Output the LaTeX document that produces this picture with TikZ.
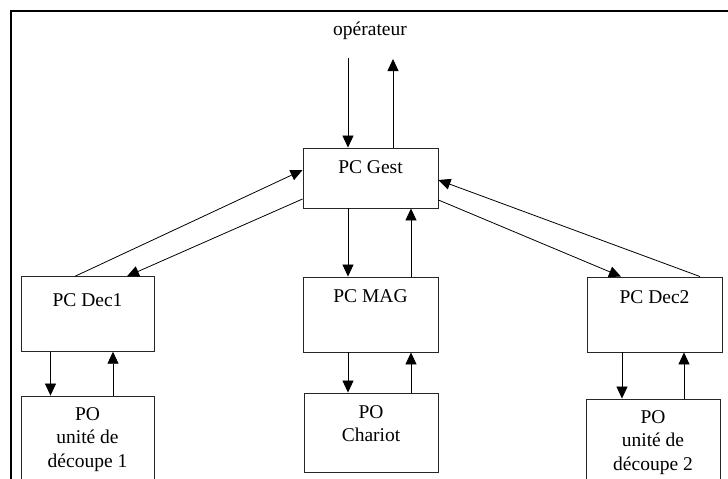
\documentclass[tikz,border=0pt]{standalone}
\usepackage{fontspec}
\setmainfont{Liberation Serif}
\usetikzlibrary{arrows.meta}
\begin{document}
\begin{tikzpicture}[x=1pt,y=-1pt,
  box/.style={draw=black!85,line width=0.9pt,minimum width=#1,inner sep=0pt},
  lbl/.style={font=\fontsize{19.5}{23.5}\selectfont,align=center,anchor=base,inner sep=0pt},
  arr/.style={line width=0.8pt,-{Triangle[length=12pt,width=11pt]}},
  ln/.style={line width=0.8pt}]
\clip (0,0) rectangle (728,479);
\fill[white] (0,0) rectangle (728,479);
\draw[line width=1.4pt] (11,11) rectangle (745,495);
% boxes
\node[box=135,minimum height=60] (gest) at (370.5,178) {};
\node[box=133,minimum height=74.5] (dec1) at (87.5,314) {};
\node[box=135,minimum height=75] (mag) at (370.5,314.5) {};
\node[box=135,minimum height=75] (dec2) at (654.5,314.5) {};
\node[box=133,minimum height=110] (po1) at (87.5,451) {};
\node[box=134,minimum height=79] (char) at (371,432.5) {};
\node[box=134,minimum height=110] (po2) at (653,454) {};
% labels
\node[lbl] (top) at (370,35) {opérateur};
\node[lbl] (tgest) at (370.5,173) {PC Gest};
\node[lbl] (tdec1) at (87.5,306) {PC Dec1};
\node[lbl] (tmag) at (370.5,302) {PC MAG};
\node[lbl] (tdec2) at (654.5,303) {PC Dec2};
\node[lbl] (tpo1) at (87.5,467) {PO\\unité de\\découpe 1};
\node[lbl] (tchar) at (371,441.5) {PO\\Chariot};
\node[lbl] (tpo2) at (653,470) {PO\\unité de\\découpe 2};
% operator arrows
\coordinate (opin) at (348,58);
\coordinate (opout) at (393,59);
\draw[arr] (opin) -- (opin |- gest.north);
\draw[arr] (opout |- gest.north) -- (opout);
% gest <-> mag
\draw[arr] ([xshift=-22.5]gest.south) -- ([xshift=-22.5]gest.south |- mag.north);
\draw[arr] ([xshift=40.5]mag.north) -- ([xshift=40.5]mag.north |- gest.south);
% gest <-> dec1
\draw[arr] ([xshift=-12.5]dec1.north) -- ([yshift=8]gest.west);
\draw[arr] ([yshift=-21]gest.west) -- ([xshift=39.5]dec1.north);
% gest <-> dec2
\draw[arr] ([xshift=45.5]dec2.north) -- ([yshift=-2]gest.east);
\draw[arr] ([yshift=-22]gest.east) -- ([xshift=-33.5]dec2.north);
% dec1 <-> po1
\draw[arr] ([xshift=-37]dec1.south) -- ([xshift=-37]dec1.south |- po1.north);
\draw[arr] ([xshift=25.5]po1.north) -- ([xshift=25.5]po1.north |- dec1.south);
% mag <-> chariot
\draw[arr] ([xshift=-22.5]mag.south) -- ([xshift=-22.5]mag.south |- char.north);
\draw[arr] ([xshift=40]char.north) -- ([xshift=40]char.north |- mag.south);
% dec2 <-> po2
\draw[arr] ([xshift=-32.5]dec2.south) -- ([xshift=-32.5]dec2.south |- po2.north);
\draw[arr] ([xshift=31]po2.north) -- ([xshift=31]po2.north |- dec2.south);
\end{tikzpicture}
\end{document}
